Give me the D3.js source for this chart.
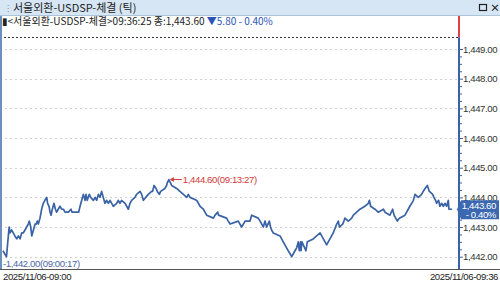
<!DOCTYPE html>
<html>
<head>
<meta charset="utf-8">
<script src="https://cdn.jsdelivr.net/npm/d3@7"></script>
<style>
  body { margin: 0; background: #fff; }
  svg { display: block; font-family: "Noto Sans CJK KR", "DejaVu Sans", sans-serif; }
  .num { font-family: "Liberation Sans", Arial, sans-serif; font-size: 9.6px; letter-spacing: -0.4px; }
</style>
</head>
<body>
<div id="chart"></div>
<script>
// seconds after 09:00:00 and traded price for each tick sample
const tickSec = [
  0, 8, 17, 22, 26, 30, 34, 42, 50, 58, 67, 75, 83, 91, 99, 107, 115, 123, 128, 135,
  140, 148, 156, 161, 167, 172, 180, 188, 196, 204, 213, 217, 224, 229, 234, 240, 248, 255, 261, 269,
  277, 286, 294, 302, 318, 331, 336, 368, 375, 383, 391, 399, 404, 410, 420, 427, 440, 448, 456, 464,
  472, 480, 488, 496, 504, 513, 521, 529, 537, 553, 561, 569, 577, 594, 602, 610, 618, 626, 642, 650,
  667, 675, 683, 707, 723, 728, 735, 745, 751, 761, 767, 788, 796, 800, 807, 821, 845, 861, 878, 894,
  902, 910, 942, 951, 959, 975, 983, 991, 1024, 1032, 1045, 1049, 1088, 1096, 1105, 1145, 1153, 1161, 1170, 1178,
  1202, 1210, 1242, 1251, 1259, 1267, 1275, 1283, 1296, 1302, 1307, 1315, 1348, 1356, 1364, 1372, 1380, 1388, 1397, 1405,
  1413, 1421, 1429, 1437, 1442, 1448, 1450, 1455, 1474, 1481, 1510, 1526, 1543, 1551, 1559, 1567, 1575, 1583, 1591, 1599,
  1607, 1624, 1632, 1637, 1653, 1659, 1664, 1680, 1697, 1705, 1721, 1737, 1761, 1778, 1783, 1789, 1810, 1826, 1851, 1859,
  1883, 1896, 1903, 1911, 1919, 1929, 1956, 1972, 1980, 1989, 1997, 2005, 2021, 2037, 2045, 2054, 2065, 2070, 2075, 2091,
  2097, 2105, 2110, 2120, 2126, 2135, 2143, 2151, 2159, 2167, 2170, 2178, 2185
];
const tickPrice = [
  1442.2, 1442.1, 1442.0, 1442.4, 1442.7, 1443.0, 1442.8, 1442.9, 1442.8, 1442.7, 1442.6, 1442.7, 1442.6, 1442.8, 1442.8, 1442.9, 1443.0, 1443.1, 1443.2, 1443.0,
  1442.7, 1442.9, 1443.1, 1443.1, 1443.2, 1443.1, 1443.3, 1443.6, 1443.8, 1443.9, 1444.0, 1443.8, 1443.7, 1443.5, 1443.4, 1443.6, 1443.8, 1443.6, 1443.5, 1443.6,
  1443.7, 1443.6, 1443.6, 1443.5, 1443.5, 1443.6, 1443.5, 1443.5, 1443.7, 1443.9, 1444.1, 1443.9, 1444.1, 1443.9, 1444.1, 1444.0, 1443.9, 1444.0, 1443.9, 1444.1,
  1444.0, 1444.2, 1444.0, 1443.8, 1443.9, 1443.8, 1443.9, 1443.8, 1443.7, 1443.8, 1443.9, 1443.8, 1443.9, 1443.8, 1443.7, 1443.6, 1443.8, 1443.9, 1444.0, 1444.1,
  1444.2, 1444.1, 1443.9, 1444.1, 1444.2, 1444.2, 1444.4, 1444.3, 1444.2, 1444.1, 1444.2, 1444.3, 1444.4, 1444.5, 1444.6, 1444.4, 1444.3, 1444.2, 1444.1, 1444.0,
  1444.1, 1444.0, 1443.9, 1443.8, 1443.7, 1443.6, 1443.5, 1443.4, 1443.3, 1443.4, 1443.5, 1443.4, 1443.3, 1443.2, 1443.1, 1443.2, 1443.1, 1443.0, 1443.1, 1443.2,
  1443.2, 1443.4, 1443.3, 1443.2, 1443.1, 1443.0, 1443.2, 1443.0, 1443.2, 1443.0, 1442.9, 1442.8, 1442.7, 1442.6, 1442.5, 1442.4, 1442.3, 1442.2, 1442.1, 1442.0,
  1442.1, 1442.2, 1442.3, 1442.5, 1442.2, 1442.5, 1442.2, 1442.5, 1442.2, 1442.5, 1442.6, 1442.7, 1442.8, 1442.7, 1442.6, 1442.5, 1442.4, 1442.5, 1442.6, 1442.7,
  1442.8, 1443.1, 1443.2, 1443.0, 1443.1, 1443.2, 1443.3, 1443.2, 1443.3, 1443.4, 1443.5, 1443.6, 1443.7, 1443.8, 1443.9, 1443.7, 1443.6, 1443.5, 1443.6, 1443.5,
  1443.4, 1443.6, 1443.4, 1443.3, 1443.2, 1443.3, 1443.4, 1443.6, 1443.7, 1443.8, 1443.9, 1444.1, 1444.0, 1444.1, 1444.2, 1444.3, 1444.4, 1444.3, 1444.2, 1444.1,
  1444.0, 1443.9, 1443.8, 1443.9, 1443.7, 1443.8, 1443.7, 1443.8, 1443.7, 1443.9, 1443.6, 1443.6, 1443.6
];
const yTicks = [1442, 1443, 1444, 1445, 1446, 1447, 1448, 1449];
const prevClose = 1449.40;
const dateLabels = ["2025/11/06-09:00", "2025/11/06-09:36"];
const titleText = "서울외환-USDSP-체결 (틱)";
const infoText = "<서울외환-USDSP-체결>09:36:25 종:1,443.60";
const changeText = "▼5.80  - 0.40%";
const highInfo = { price: 1444.60, time: "09:13:27" };
const lowInfo = { price: 1442.00, time: "09:00:17" };
const lastInfo = { price: 1443.60, pct: "- 0.40%" };

const W = 500, H = 284;
const plotRight = 459, axisBottom = 269;
const lineColor = "#3a63a6";

const svg = d3.select("#chart").append("svg")
    .attr("width", W)
    .attr("height", H);

const base = new Date(2025, 10, 6, 9, 0, 0);
const data = tickSec.map((s, i) => ({
    date: new Date(base.getTime() + s * 1000),
    price: tickPrice[i]
}));

const x = d3.scaleTime()
    .domain([base, new Date(base.getTime() + 2185 * 1000)])
    .range([3, 452]);

const y = d3.scaleLinear()
    .domain([1442, 1449])
    .range([256.7, 49]);

const fmt = d3.format(",.2f");

// window title bar
svg.append("rect").attr("x", 0).attr("y", 0).attr("width", W).attr("height", 15)
    .attr("fill", "#d6e6f4");
svg.append("line").attr("x1", 0).attr("x2", W).attr("y1", 15.5).attr("y2", 15.5)
    .attr("stroke", "#aac4dc");
svg.append("text").attr("x", 4).attr("y", 11).attr("fill", "#888")
    .style("font-size", "8px").text("⋮");
svg.append("text").attr("x", 13).attr("y", 11.5).attr("fill", "#222")
    .style("font-size", "11px").text(titleText);
svg.append("rect").attr("x", 479.5).attr("y", 4.5).attr("width", 7).attr("height", 6)
    .attr("fill", "none").attr("stroke", "#222").attr("stroke-width", 1.2);
svg.append("text").attr("x", 490).attr("y", 12).attr("fill", "#222")
    .style("font-size", "10px").style("font-weight", "bold").text("×");

// gridlines
svg.append("g")
    .selectAll("line")
    .data(yTicks)
    .enter()
    .append("line")
    .attr("x1", 0).attr("x2", plotRight)
    .attr("y1", d => Math.round(y(d)) + 0.5)
    .attr("y2", d => Math.round(y(d)) + 0.5)
    .attr("stroke", "#d0d0d0")
    .attr("stroke-dasharray", "2,3");

// previous close line
svg.append("line")
    .attr("x1", 0).attr("x2", plotRight)
    .attr("y1", Math.round(y(prevClose)) + 0.5)
    .attr("y2", Math.round(y(prevClose)) + 0.5)
    .attr("stroke", "#333")
    .attr("stroke-dasharray", "2,2");

// info line
const info = svg.append("text").attr("x", 2).attr("y", 25).style("font-size", "10px");
info.append("tspan").attr("fill", "#222").text("▮" + infoText + " ");
info.append("tspan").attr("fill", "#2a55b8").text(changeText);

// left border
svg.append("line").attr("x1", 1).attr("x2", 1).attr("y1", 16).attr("y2", axisBottom)
    .attr("stroke", "#6d8fbf").attr("stroke-width", 2);

// price line
const line = d3.line()
    .x(d => x(d.date))
    .y(d => y(d.price));

svg.append("path")
    .datum(data)
    .attr("fill", "none")
    .attr("stroke", lineColor)
    .attr("stroke-width", 1.7)
    .attr("stroke-linejoin", "round")
    .attr("d", line);

// right axis
const yAxis = d3.axisRight(y)
    .tickValues(d3.range(1442, 1449.01, 0.25))
    .tickSize(3)
    .tickFormat(d => Number.isInteger(d) ? fmt(d) : "");

const ay = svg.append("g")
    .attr("transform", `translate(${plotRight},0)`)
    .call(yAxis);
ay.select(".domain").remove();
ay.selectAll(".tick line").attr("stroke", lineColor);
ay.selectAll(".tick").filter(d => Number.isInteger(d)).select("line").attr("x2", 4);
ay.selectAll(".tick text")
    .attr("x", 4)
    .attr("fill", "#333")
    .attr("class", "num")
    .style("font-size", null)
    .style("font-family", null);
ay.attr("font-size", null).attr("font-family", null);

svg.append("line").attr("x1", plotRight).attr("x2", plotRight)
    .attr("y1", 16).attr("y2", y(prevClose))
    .attr("stroke", "#e04040").attr("stroke-width", 2);
svg.append("line").attr("x1", plotRight).attr("x2", plotRight)
    .attr("y1", y(prevClose)).attr("y2", axisBottom)
    .attr("stroke", lineColor).attr("stroke-width", 2);

// high marker
const hx = x(new Date(base.getTime() + (13 * 60 + 27) * 1000));
const hy = y(highInfo.price);
svg.append("line").attr("x1", hx + 2).attr("x2", hx + 13).attr("y1", hy).attr("y2", hy)
    .attr("stroke", "#d23a3a");
svg.append("path").attr("d", `M${hx + 1},${hy} l4,-2.5 v5 z`).attr("fill", "#d23a3a");
svg.append("text").attr("class", "num").attr("x", hx + 14).attr("y", hy + 3.5).attr("fill", "#d23a3a")
    .text(`${fmt(highInfo.price)}(${highInfo.time})`);

// low marker
svg.append("text").attr("class", "num").attr("x", 3).attr("y", 267).attr("fill", "#4a68a8")
    .text(`-${fmt(lowInfo.price)}(${lowInfo.time})`);

// last price box
const ly = y(lastInfo.price);
svg.append("path")
    .attr("d", `M${plotRight - 2},${ly} L${plotRight + 2},${ly - 9} H${W - 1} V${ly + 10} H${plotRight + 2} Z`)
    .attr("fill", "#3b68b0");
svg.append("text").attr("class", "num").attr("x", 496).attr("y", ly - 0.5).attr("text-anchor", "end")
    .attr("fill", "#fff").text(fmt(lastInfo.price));
svg.append("text").attr("class", "num").attr("x", 496).attr("y", ly + 8.5).attr("text-anchor", "end")
    .attr("fill", "#fff").text(lastInfo.pct);

// bottom axis
svg.append("line").attr("x1", 0).attr("x2", W).attr("y1", axisBottom + 0.5).attr("y2", axisBottom + 0.5)
    .attr("stroke", "#555");
svg.append("text").attr("class", "num").attr("x", 3).attr("y", 280).attr("fill", "#222")
    .text(dateLabels[0]);
svg.append("text").attr("class", "num").attr("x", 498).attr("y", 280).attr("text-anchor", "end").attr("fill", "#222")
    .text(dateLabels[1]);
</script>
</body>
</html>
